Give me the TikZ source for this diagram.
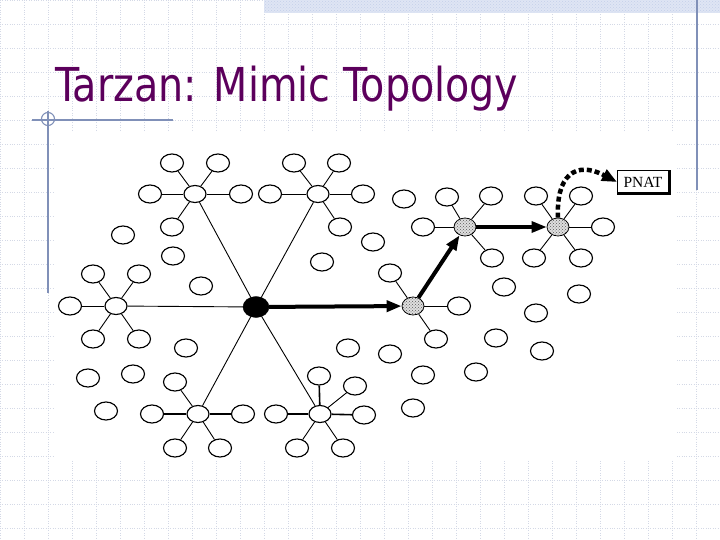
\documentclass[tikz,border=0pt]{standalone}
\usepackage{graphicx}
\usepackage{fontspec}
\setmainfont{Liberation Serif}
\newfontfamily\titlefont{DejaVu Sans}
\usetikzlibrary{shapes.geometric,arrows.meta,patterns}
\definecolor{gridc}{RGB}{212,217,230}
\definecolor{decoc}{RGB}{128,144,184}
\definecolor{titlec}{RGB}{92,0,92}
\definecolor{bandc}{RGB}{196,208,234}
\begin{document}
\begin{tikzpicture}[x=1pt,y=-1pt,
  gridline/.style={gridc,line width=0.6pt,dash pattern=on 0.8pt off 1.6pt},
  deco/.style={decoc,line width=1.1pt},
  leaf/.style={ellipse,draw,line width=1.15pt,fill=white,minimum width=23pt,minimum height=18pt,inner sep=0pt},
  hub/.style={leaf,minimum width=22pt,minimum height=17pt},
  core/.style={ellipse,draw,fill=black,minimum width=26pt,minimum height=21pt,inner sep=0pt},
  relay/.style={ellipse,draw,line width=0.8pt,minimum width=22pt,minimum height=18pt,inner sep=0pt,fill=gray!25,postaction={pattern=crosshatch dots,pattern color=gray!70!black}},
  link/.style={line width=0.9pt},
  boldlink/.style={line width=1.6pt},
  route/.style={line width=4pt,-{Triangle[length=15pt,width=11pt]}},
  pnatbox/.style={draw,line width=1pt,fill=white,minimum width=51pt,minimum height=22pt,inner sep=0pt,font=\fontsize{15.5}{15.5}\selectfont}
]
\useasboundingbox (0,0) rectangle (720,540);
% slide background grid
\foreach \gx in {0,24,...,720} \draw[gridline] (\gx,0) -- (\gx,540);
\foreach \gy in {0,24,...,540} \draw[gridline] (0,\gy) -- (720,\gy);
\fill[bandc!55!white] (264,0) rectangle (720,13);
\fill[pattern=crosshatch dots,pattern color=bandc] (264,0) rectangle (720,13);
\fill[white] (55,132) rectangle (677,460);
% decorations
\draw[deco] (697,0) -- (697,190);
\draw[deco] (32,120) -- (173,120);
\draw[deco] (48,111) -- (48,293);
\draw[deco] (48,119) circle[radius=6.5];
% title
\node[anchor=base west,inner sep=0pt,text=titlec] (title) at (55,102) {\resizebox{463pt}{35.5pt}{\titlefont Tarzan: Mimic Topology}};

% central node and hubs
\node[core] (B) at (256,307) {};
\node[hub] (H1) at (195,194) {};
\node[hub] (H4) at (318,194) {};
\node[hub] (H2) at (116,306) {};
\node[hub] (H3) at (198,414) {};
\node[hub] (H5) at (320,414) {};
\node[relay] (G2) at (413,306) {};
\node[relay] (G1) at (465,227) {};
\node[relay] (G3) at (558,227) {};

% leaves of H1
\node[leaf] (a1) at (172,163) {};
\node[leaf] (a2) at (218,163) {};
\node[leaf] (a3) at (150,194) {};
\node[leaf] (a4) at (241,194) {};
\node[leaf] (a5) at (172,227) {};
% leaves of H4
\node[leaf] (b1) at (294,163) {};
\node[leaf] (b2) at (339,163) {};
\node[leaf] (b3) at (270,194) {};
\node[leaf] (b4) at (363,194) {};
\node[leaf] (b5) at (340,227) {};
% leaves of H2
\node[leaf] (c1) at (93,274) {};
\node[leaf] (c2) at (139,274) {};
\node[leaf] (c3) at (70,306) {};
\node[leaf] (c4) at (93,339) {};
\node[leaf] (c5) at (139,339) {};
% leaves of H3
\node[leaf] (d1) at (175,382) {};
\node[leaf] (d2) at (152,414) {};
\node[leaf] (d3) at (243,414) {};
\node[leaf] (d4) at (175,448) {};
\node[leaf] (d5) at (220,448) {};
% leaves of H5
\node[leaf] (e1) at (319,376) {};
\node[leaf] (e2) at (355,386) {};
\node[leaf] (e3) at (276,414) {};
\node[leaf] (e4) at (364,415) {};
\node[leaf] (e5) at (297,448) {};
\node[leaf] (e6) at (343,448) {};
% leaves of G2
\node[leaf] (f1) at (390,273) {};
\node[leaf] (f2) at (459,306) {};
\node[leaf] (f3) at (436,339) {};
% leaves of G1
\node[leaf] (g1) at (423,227) {};
\node[leaf] (g2) at (447,197) {};
\node[leaf] (g3) at (491,196) {};
\node[leaf] (g4) at (492,258) {};
% leaves of G3
\node[leaf] (k1) at (536,196) {};
\node[leaf] (k2) at (581,196) {};
\node[leaf] (k3) at (603,227) {};
\node[leaf] (k4) at (534,258) {};
\node[leaf] (k5) at (581,258) {};
% unattached nodes
\node[leaf] (u1) at (123,235) {};
\node[leaf] (u2) at (173,256) {};
\node[leaf] (u3) at (201,286) {};
\node[leaf] (u4) at (404,199) {};
\node[leaf] (u5) at (373,242) {};
\node[leaf] (u6) at (322,262) {};
\node[leaf] (u7) at (186,348) {};
\node[leaf] (u8) at (88,378) {};
\node[leaf] (u9) at (133,374) {};
\node[leaf] (u10) at (106,411) {};
\node[leaf] (u11) at (348,348) {};
\node[leaf] (u12) at (390,354) {};
\node[leaf] (u13) at (423,375) {};
\node[leaf] (u14) at (413,408) {};
\node[leaf] (u15) at (476,372) {};
\node[leaf] (u16) at (504,287) {};
\node[leaf] (u17) at (579,294) {};
\node[leaf] (u18) at (536,313) {};
\node[leaf] (u19) at (496,338) {};
\node[leaf] (u20) at (542,351) {};

% PNAT box
\node[pnatbox] (P) at (643,182) {PNAT};
\draw[line width=3pt] ([xshift=0.5pt]P.north east) -- ([xshift=0.5pt,yshift=-0.5pt]P.south east) -- ([yshift=-0.5pt]P.south west);

% links centre - hubs
\foreach \h in {H1,H4,H2,H3,H5} \draw[link] (B) -- (\h);
% hub - leaf links
\foreach \l in {a1,a2,a3,a4,a5} \draw[link] (H1) -- (\l);
\foreach \l in {b1,b2,b3,b4,b5} \draw[link] (H4) -- (\l);
\foreach \l in {c1,c2,c3,c4,c5} \draw[link] (H2) -- (\l);
\foreach \l in {d1,d4,d5} \draw[link] (H3) -- (\l);
\foreach \l in {d2,d3} \draw[boldlink] (H3) -- (\l);
\foreach \l in {e2,e5,e6} \draw[link] (H5) -- (\l);
\foreach \l in {e1,e3,e4} \draw[boldlink] (H5) -- (\l);
\foreach \l in {f1,f2,f3} \draw[link] (G2) -- (\l);
\foreach \l in {g1,g2,g3,g4} \draw[link] (G1) -- (\l);
\foreach \l in {k1,k2,k3,k4,k5} \draw[link] (G3) -- (\l);

% route arrows
\draw[route] (B) -- (G2);
\draw[route] (G2) -- (G1);
\draw[route,line width=3.2pt] (G1) -- (G3);
\draw[line width=4.5pt,dash pattern=on 5pt off 3pt,-{Triangle[length=15pt,width=12pt]}]
  (G3.north) .. controls (556,176) and (575,160) .. (P.west);
\end{tikzpicture}
\end{document}
